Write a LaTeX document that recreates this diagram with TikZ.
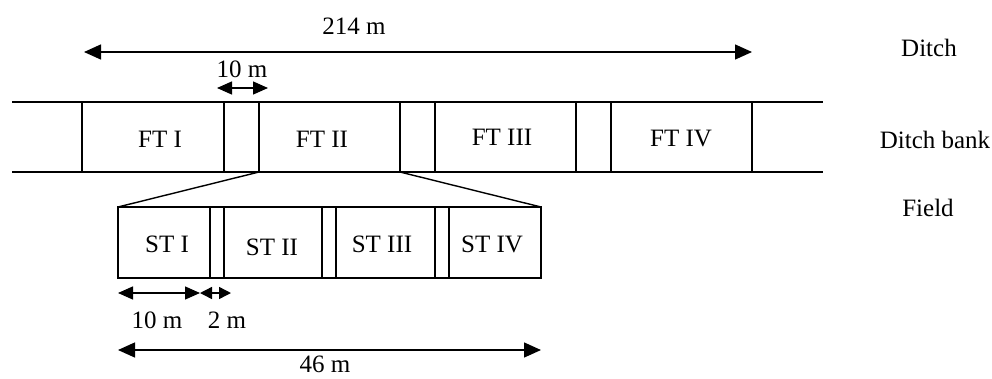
\documentclass[tikz,border=0pt]{standalone}
\usepackage{fontspec}
\setmainfont{Liberation Serif}
\usetikzlibrary{arrows.meta}
\begin{document}
\begin{tikzpicture}[x=1pt,y=-1pt,line width=1.4pt,
  lbl/.style={font=\fontsize{25}{30}\selectfont,inner sep=0pt,anchor=base},
  dimarrow/.style={{Triangle[length=17pt,width=15pt]}-{Triangle[length=17pt,width=15pt]}},
  smallarrow/.style={{Triangle[length=15pt,width=13pt]}-{Triangle[length=15pt,width=13pt]}},
  tinyarrow/.style={{Triangle[length=12pt,width=12pt]}-{Triangle[length=12pt,width=12pt]}}]
\useasboundingbox (0,0) rectangle (992,378);
% coordinates
\coordinate (bA) at (84,52);
\coordinate (bB) at (752,52);
\coordinate (tA) at (217,88);
\coordinate (tB) at (268,88);
\coordinate (bankTL) at (12,102);
\coordinate (bankTR) at (823,102);
\coordinate (bankBL) at (12,172);
\coordinate (bankBR) at (823,172);
\coordinate (ftL) at (259,172);
\coordinate (ftR) at (400,172);
\coordinate (stTL) at (118,207);
\coordinate (stTR) at (541,207);
\coordinate (stBL) at (118,278);
\coordinate (stBR) at (541,278);
\coordinate (sA) at (118,293);
\coordinate (sB) at (200,293);
\coordinate (sC) at (231,293);
\coordinate (fA) at (118,350);
\coordinate (fB) at (541,350);
% bank
\draw (bankTL) -- (bankTR);
\draw (bankBL) -- (bankBR);
\foreach \x in {82,224,259,400,435,576,611,752}
  \draw (\x,102) -- (\x,172);
% trapezoid
\draw (ftL) -- (stTL);
\draw (ftR) -- (stTR);
% sub-trials box
\draw (stTL) rectangle (stBR);
\foreach \x in {210,224,322,336,435,449}
  \draw (\x,207) -- (\x,278);
% dimension arrows
\draw[dimarrow] (bA) -- (bB);
\draw[smallarrow] (tA) -- (tB);
\draw[smallarrow] (sA) -- (sB);
\draw[tinyarrow] (sB) -- (sC);
\draw[dimarrow] (fA) -- (fB);
% labels
\node[lbl] (l214) at (354,34) {214 m};
\node[lbl] (l10t) at (242,77) {10 m};
\node[lbl] (ft1) at (160,147) {FT I};
\node[lbl] (ft2) at (322,147) {FT II};
\node[lbl] (ft3) at (502,145) {FT III};
\node[lbl] (ft4) at (681,146) {FT IV};
\node[lbl] (ditch) at (929,56) {Ditch};
\node[lbl] (bank) at (935,148) {Ditch bank};
\node[lbl] (field) at (928,216) {Field};
\node[lbl] (st1) at (167,252) {ST I};
\node[lbl] (st2) at (272,255) {ST II};
\node[lbl] (st3) at (382,252) {ST III};
\node[lbl] (st4) at (492,252) {ST IV};
\node[lbl] (l10b) at (157,328) {10 m};
\node[lbl] (l2) at (227,328) {2 m};
\node[lbl] (l46) at (325,372) {46 m};
\end{tikzpicture}
\end{document}
